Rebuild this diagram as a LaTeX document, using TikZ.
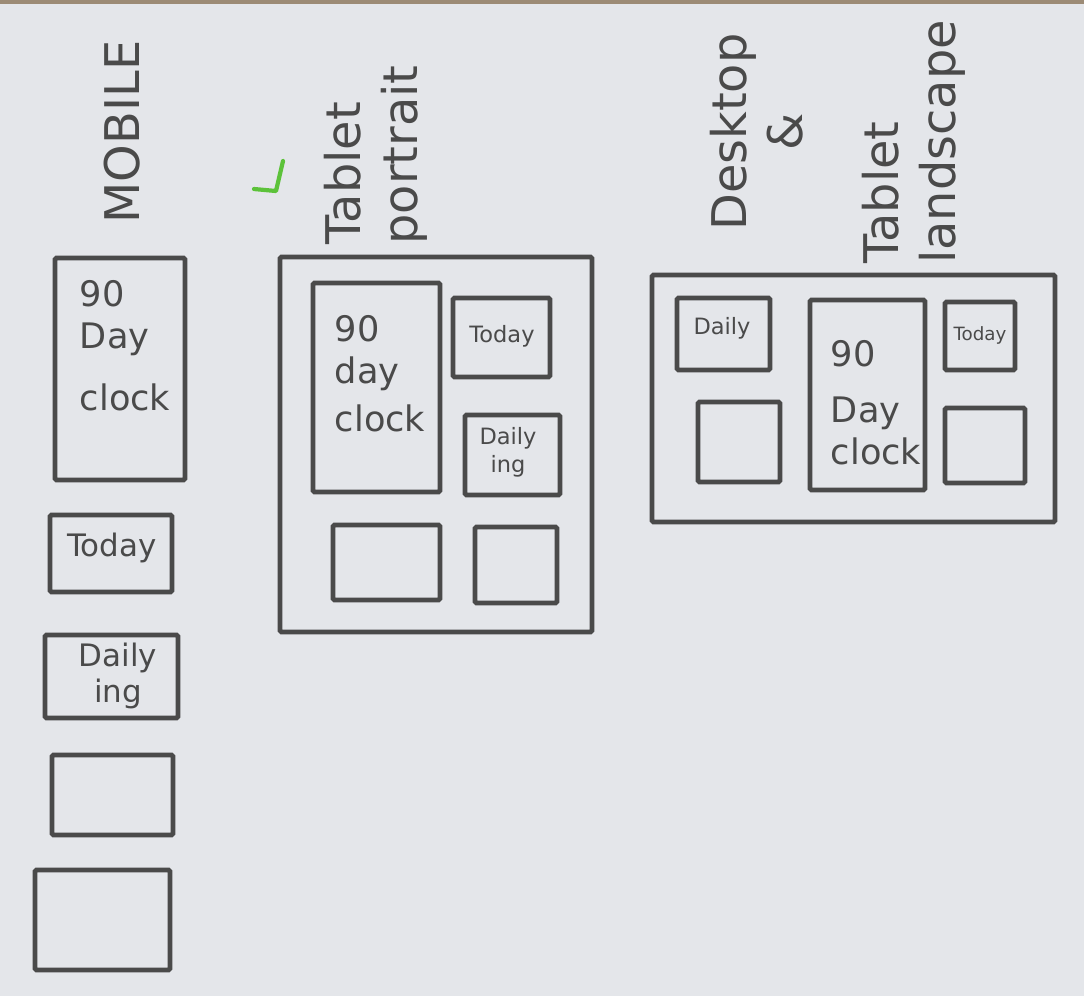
\documentclass[tikz,border=0pt]{standalone}
\usepackage{fontspec}
\setmainfont{DejaVu Sans}
\usetikzlibrary{fit}
\definecolor{paper}{HTML}{E4E6EA}
\definecolor{pencil}{HTML}{4A4A4A}
\definecolor{strip}{HTML}{9C8B76}
\definecolor{hl}{HTML}{5CC23A}
\tikzset{
  box/.style={draw=pencil, line width=3.3pt, inner sep=0pt, rounded corners=1pt},
  lbl/.style={text=pencil, rotate=90, font=\fontsize{34}{40}\selectfont},
  big/.style={text=pencil, align=left, font=\fontsize{25}{30}\selectfont},
  mid/.style={text=pencil, align=left, font=\fontsize{22}{26}\selectfont},
  sml/.style={text=pencil, align=left, font=\fontsize{16}{20}\selectfont},
}
\begin{document}
\begin{tikzpicture}[x=0.025cm,y=-0.025cm]
\useasboundingbox (0,0) rectangle (1084,996);
\fill[paper] (0,0) rectangle (1084,996);
\fill[strip] (0,0) rectangle (1084,4);
% green mark
\draw[hl, line width=3pt, line cap=round, line join=round] (283,161) -- (276,191) -- (254,189);
% ---- labels
\node[lbl] (lmob) at (122,132) {MOBILE};
\node[lbl, align=left, anchor=south] (ltab) at (432,155) {Tablet\\portrait};
\node[lbl, align=center] (ldesk) at (757,132) {Desktop\\\&};
\node[lbl, align=left, anchor=south] (lland) at (970,142) {Tablet\\landscape};
% ---- mobile
\node[box, fit={(55,258) (185,480)}] (m1) {};
\node[big, anchor=north west] (m1t) at (75,275) {90\\Day\\[14pt]clock};
\node[box, fit={(50,515) (172,592)}] (m2) {};
\node[mid] (m2t) at (112,548) {Today};
\node[box, fit={(45,635) (178,718)}] (m3) {};
\node[mid, align=center] (m3t) at (118,676) {Daily\\ing};
\node[box, fit={(52,755) (173,835)}] (m4) {};
\node[box, fit={(35,870) (170,970)}] (m5) {};
% ---- tablet portrait
\node[box, fit={(280,257) (592,632)}] (tp) {};
\node[box, fit={(313,283) (440,492)}] (tp1) {};
\node[big, anchor=north west] (tp1t) at (330,310) {90\\day\\[4pt]clock};
\node[box, fit={(453,298) (550,377)}] (tp2) {};
\node[sml] (tp2t) at (502,336) {Today};
\node[box, fit={(465,415) (560,495)}] (tp3) {};
\node[sml, align=center] (tp3t) at (508,452) {Daily\\ing};
\node[box, fit={(333,525) (440,600)}] (tp4) {};
\node[box, fit={(475,527) (557,603)}] (tp5) {};
% ---- desktop / tablet landscape
\node[box, fit={(652,275) (1055,522)}] (tl) {};
\node[box, fit={(677,298) (770,370)}] (tl1) {};
\node[sml] (tl1t) at (722,328) {Daily};
\node[box, fit={(698,402) (780,482)}] (tl2) {};
\node[box, fit={(810,300) (925,490)}] (tl3) {};
\node[big, anchor=north west] (tl3t) at (826,335) {90\\[10pt]Day\\clock};
\node[box, fit={(945,302) (1015,370)}] (tl4) {};
\node[sml, font=\fontsize{13}{16}\selectfont] (tl4t) at (980,335) {Today};
\node[box, fit={(945,408) (1025,483)}] (tl5) {};
\end{tikzpicture}
\end{document}
